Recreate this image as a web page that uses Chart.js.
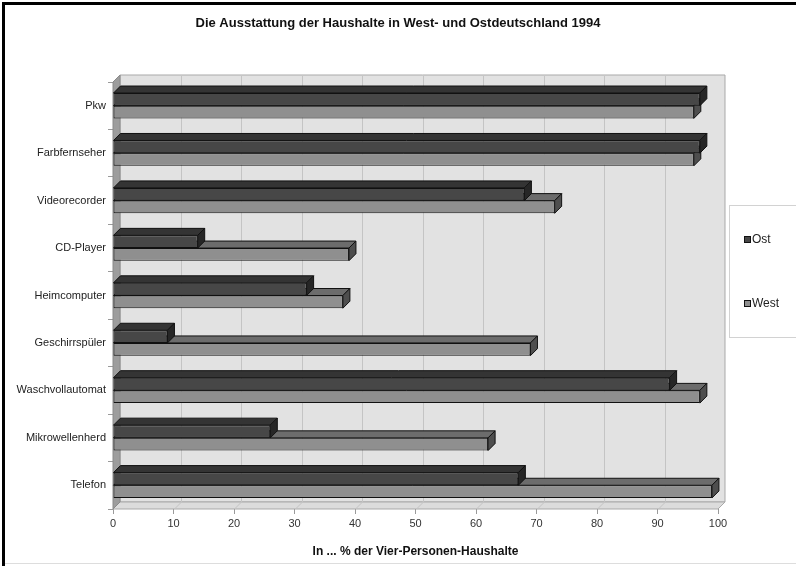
<!DOCTYPE html>
<html>
<head>
<meta charset="utf-8">
<script src="https://cdn.jsdelivr.net/npm/chart.js@4/dist/chart.umd.min.js"></script>
<style>
  html, body { margin: 0; padding: 0; background: #ffffff; }
  canvas { display: block; }
</style>
</head>
<body>
<canvas id="chart" width="796" height="566"></canvas>
<script>
// Haushaltsausstattung 1994, Anteile in % der Vier-Personen-Haushalte
const categories = ['Pkw', 'Farbfernseher', 'Videorecorder', 'CD-Player', 'Heimcomputer',
                    'Geschirrspüler', 'Waschvollautomat', 'Mikrowellenherd', 'Telefon'];
const ost  = [97, 97, 68, 14, 32,  9, 92, 26, 67];
const west = [96, 96, 73, 39, 38, 69, 97, 62, 99];
const seriesNames = ['Ost', 'West'];
const xTicks = { min: 0, max: 100, step: 10 };

const FONT = "'Liberation Sans', Arial, sans-serif";
const DEPTH = 7;

// colours per series: front, top, side
const shades = [
  { front: '#474747', top: '#343434', side: '#262626' },
  { front: '#8f8f8f', top: '#6c6c6c', side: '#4e4e4e' }
];

function poly(ctx, pts, fill, stroke) {
  ctx.beginPath();
  ctx.moveTo(pts[0][0], pts[0][1]);
  for (let i = 1; i < pts.length; i++) ctx.lineTo(pts[i][0], pts[i][1]);
  ctx.closePath();
  if (fill) { ctx.fillStyle = fill; ctx.fill(); }
  if (stroke) { ctx.strokeStyle = stroke; ctx.lineWidth = 1; ctx.stroke(); }
}

// back wall, left wall, floor and gridlines of the 3D box
const boxPlugin = {
  id: 'box3d',
  beforeDatasetsDraw(chart) {
    const { ctx, chartArea: a, scales: { x } } = chart;
    const d = DEPTH;
    ctx.save();
    // back wall
    poly(ctx, [[a.left + d, a.top - d], [a.right + d, a.top - d], [a.right + d, a.bottom - d], [a.left + d, a.bottom - d]], '#e2e2e2', '#a9a9a9');
    // floor
    poly(ctx, [[a.left, a.bottom], [a.left + d, a.bottom - d], [a.right + d, a.bottom - d], [a.right, a.bottom]], '#dcdcdc', '#a9a9a9');
    // gridlines on wall and floor
    ctx.strokeStyle = '#c4c4c4';
    ctx.lineWidth = 1;
    for (let v = xTicks.min + xTicks.step; v < xTicks.max; v += xTicks.step) {
      const px = Math.round(x.getPixelForValue(v)) + 0.5;
      ctx.beginPath();
      ctx.moveTo(px + d, a.top - d + 1);
      ctx.lineTo(px + d, a.bottom - d);
      ctx.lineTo(px, a.bottom);
      ctx.stroke();
    }
    // left wall
    poly(ctx, [[a.left, a.top], [a.left + d, a.top - d], [a.left + d, a.bottom - d], [a.left, a.bottom]], '#9d9d9d', '#8a8a8a');
    ctx.restore();
  },
  afterDatasetDraw(chart, args) {
    const { ctx } = chart;
    const d = DEPTH;
    const sh = shades[args.index];
    ctx.save();
    ctx.lineJoin = 'miter';
    args.meta.data.forEach(bar => {
      const p = bar.getProps(['x', 'y', 'base', 'height'], true);
      const l = p.base, r = p.x, t = p.y - p.height / 2, b = p.y + p.height / 2;
      poly(ctx, [[l, t], [l + d, t - d], [r + d, t - d], [r, t]], sh.top, '#111');
      poly(ctx, [[r, t], [r + d, t - d], [r + d, b - d], [r, b]], sh.side, '#111');
    });
    ctx.restore();
  },
  afterDraw(chart) {
    const { ctx } = chart;
    ctx.save();
    // legend box
    ctx.fillStyle = '#ffffff';
    ctx.fillRect(729, 205, 70, 132);
    ctx.strokeStyle = '#d2d2d2';
    ctx.lineWidth = 1;
    ctx.strokeRect(729.5, 205.5, 70, 132);
    const rows = [240, 304];
    chart.data.datasets.forEach((ds, i) => {
      const y = rows[i];
      ctx.fillStyle = ds.backgroundColor;
      ctx.fillRect(744, y - 4, 7, 7);
      ctx.strokeStyle = '#111';
      ctx.strokeRect(744.5, y - 3.5, 6, 6);
      ctx.fillStyle = '#222';
      ctx.font = '12px ' + FONT;
      ctx.textBaseline = 'middle';
      ctx.textAlign = 'left';
      ctx.fillText(ds.label, 752, y);
    });
    // frame lines
    ctx.fillStyle = '#000';
    ctx.fillRect(2, 2, 3, 564);
    ctx.fillRect(2, 2, 794, 3);
    ctx.fillStyle = '#dddddd';
    ctx.fillRect(5, 563, 791, 1);
    ctx.restore();
  }
};

new Chart(document.getElementById('chart'), {
  type: 'bar',
  data: {
    labels: categories,
    datasets: [
      { label: seriesNames[0], data: ost,  backgroundColor: shades[0].front, borderColor: '#111', borderWidth: 1, borderSkipped: false },
      { label: seriesNames[1], data: west, backgroundColor: shades[1].front, borderColor: '#111', borderWidth: 1, borderSkipped: false }
    ]
  },
  options: {
    indexAxis: 'y',
    responsive: false,
    animation: false,
    devicePixelRatio: 1,
    layout: { padding: 0 },
    datasets: { bar: { categoryPercentage: 0.535, barPercentage: 1.0 } },
    plugins: {
      legend: { display: false },
      tooltip: { enabled: false },
      title: {
        display: true,
        text: 'Die Ausstattung der Haushalte in West- und Ostdeutschland 1994',
        color: '#111',
        font: { family: FONT, size: 13, weight: 'bold' },
        padding: { top: 16, bottom: 50.4 }
      }
    },
    scales: {
      x: {
        position: 'bottom',
        min: xTicks.min,
        max: xTicks.max,
        afterFit(s) { s.height = 57; },
        ticks: { stepSize: xTicks.step, color: '#333', font: { family: FONT, size: 11 }, padding: 3 },
        grid: { drawOnChartArea: false, drawTicks: true, tickLength: 5, color: '#9a9a9a' },
        border: { display: false },
        title: {
          display: true,
          text: 'In ... % der Vier-Personen-Haushalte',
          color: '#111',
          font: { family: FONT, size: 12, weight: 'bold' },
          padding: { top: 0, bottom: 7 }
        }
      },
      y: {
        position: 'left',
        afterFit(s) { s.width = 113; },
        ticks: { color: '#222', font: { family: FONT, size: 11 }, padding: 2 },
        grid: { drawOnChartArea: false, drawTicks: true, tickLength: 5, color: '#9a9a9a', offset: true },
        border: { display: false }
      },
      // empty right-hand strip that holds the legend column
      yLegend: {
        type: 'category',
        position: 'right',
        afterFit(s) { s.width = 78; },
        ticks: { display: false },
        grid: { display: false },
        border: { display: false }
      }
    }
  },
  plugins: [boxPlugin]
});
</script>
</body>
</html>
